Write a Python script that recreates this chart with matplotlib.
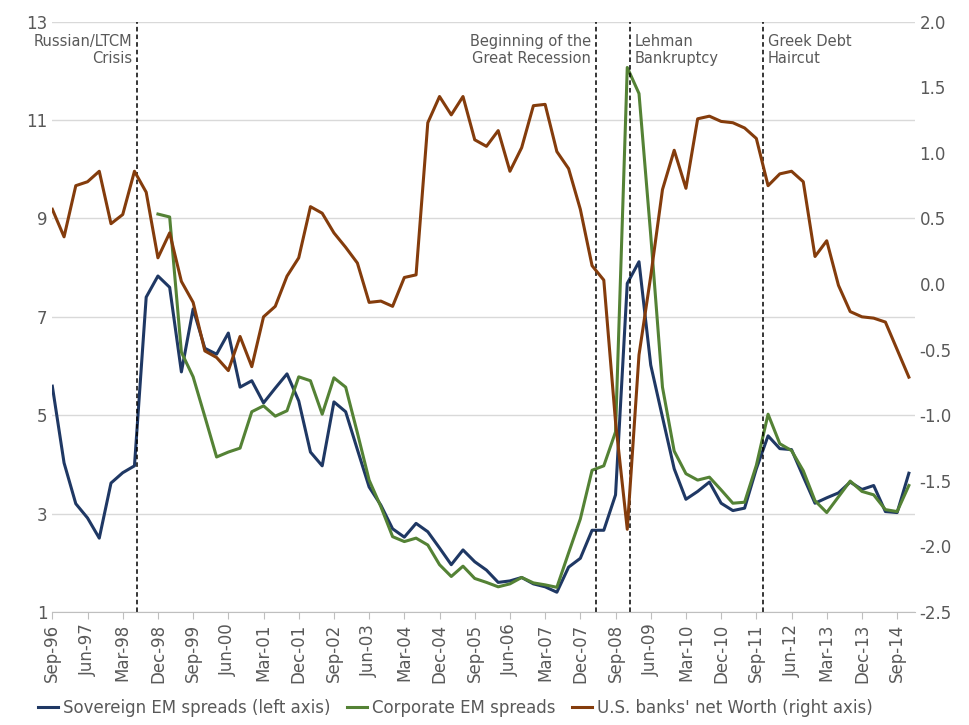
import numpy as np
import pandas as pd
import matplotlib.pyplot as plt

dates = pd.period_range('1996Q3', periods=74, freq='Q')
tick_labels = [p.strftime('%b-%y') for p in pd.period_range('1996-09', '2014-09', freq='9M')]

sovereign = [5.59, 4.03, 3.2, 2.91, 2.5, 3.62, 3.83, 3.97, 7.4, 7.83, 7.6, 5.88, 7.16, 6.36, 6.24,
             6.67, 5.57, 5.7, 5.25, 5.55, 5.84, 5.29, 4.25, 3.97, 5.27, 5.07, 4.3, 3.54, 3.17, 2.69,
             2.52, 2.8, 2.63, 2.3, 1.96, 2.26, 2.02, 1.85, 1.6, 1.63, 1.7, 1.57, 1.51, 1.4, 1.91,
             2.09, 2.66, 2.66, 3.38, 7.68, 8.12, 6.02, 4.96, 3.91, 3.29, 3.45, 3.64, 3.21, 3.06,
             3.11, 3.91, 4.58, 4.32, 4.3, 3.75, 3.21, 3.32, 3.42, 3.64, 3.49, 3.57, 3.04, 3.02, 3.82]
corporate = [np.nan] * 9 + [9.09, 9.03, 6.28, 5.78, 4.97, 4.15, 4.25, 4.33, 5.07, 5.19, 4.98, 5.09,
             5.78, 5.7, 5.02, 5.76, 5.57, 4.64, 3.68, 3.14, 2.53, 2.43, 2.5, 2.36, 1.96, 1.72, 1.93,
             1.68, 1.6, 1.51, 1.57, 1.7, 1.59, 1.55, 1.5, 2.2, 2.89, 3.88, 3.97, 4.66, 12.07, 11.54,
             8.66, 5.57, 4.27, 3.81, 3.68, 3.74, 3.48, 3.21, 3.23, 3.98, 5.02, 4.42, 4.28, 3.87,
             3.26, 3.02, 3.34, 3.66, 3.45, 3.38, 3.08, 3.04, 3.57]
networth = [0.57, 0.36, 0.75, 0.78, 0.86, 0.46, 0.53, 0.86, 0.7, 0.2, 0.39, 0.02, -0.14, -0.51,
            -0.56, -0.66, -0.4, -0.63, -0.25, -0.17, 0.06, 0.2, 0.59, 0.54, 0.39, 0.28, 0.16,
            -0.14, -0.13, -0.17, 0.05, 0.07, 1.23, 1.43, 1.29, 1.43, 1.1, 1.05, 1.17, 0.86, 1.04,
            1.36, 1.37, 1.01, 0.88, 0.57, 0.14, 0.03, -1.05, -1.87, -0.54, 0.06, 0.72, 1.02, 0.73,
            1.26, 1.28, 1.24, 1.23, 1.19, 1.11, 0.75, 0.84, 0.86, 0.78, 0.21, 0.33, -0.01, -0.21,
            -0.25, -0.26, -0.29, -0.5, -0.71]

events = [(7.2, 'Russian/LTCM\nCrisis', 'right'),
          (46.3, 'Beginning of the\nGreat Recession', 'right'),
          (49.2, 'Lehman\nBankruptcy', 'left'),
          (60.6, 'Greek Debt\nHaircut', 'left')]

x = np.arange(len(dates))
grey = '#595959'

fig = plt.figure(figsize=(9.69, 7.25), dpi=100)
ax = fig.add_axes([0.054, 0.156, 0.89, 0.814])
ax2 = ax.twinx()

l1, = ax.plot(x, sovereign, color='#1f3864', lw=2.2, label='Sovereign EM spreads (left axis)')
l2, = ax.plot(x, corporate, color='#548235', lw=2.2, label='Corporate EM spreads')
l3, = ax2.plot(x, networth, color='#843c0c', lw=2.2, label="U.S. banks' net Worth (right axis)")

for xv, txt, side in events:
    ax.axvline(xv, color='black', ls=(0, (3, 2)), lw=1.1)
    off = -0.4 if side == 'right' else 0.4
    ax.text(xv + off, 12.75, txt, ha=side, va='top', fontsize=10.5, color=grey, linespacing=1.2)

ax.set_xlim(0, 73.5)
ax.set_ylim(1, 13)
ax.set_yticks(range(1, 14, 2))
ax2.set_ylim(-2.5, 2.0)
ax2.set_yticks(np.arange(-2.5, 2.01, 0.5))
ax2.set_yticklabels([f'{v:.1f}' for v in np.arange(-2.5, 2.01, 0.5)])
ax.set_xticks(x[::3][:len(tick_labels)])
ax.set_xticklabels(tick_labels, rotation=90)
ax.grid(axis='y', color='#d9d9d9', lw=1)
ax.set_axisbelow(True)
for a in (ax, ax2):
    for s in ('top', 'left', 'right'):
        a.spines[s].set_visible(False)
    a.tick_params(axis='y', length=0, labelsize=12, colors=grey)
ax2.spines['bottom'].set_visible(False)
ax.spines['bottom'].set_color('#bfbfbf')
ax.tick_params(axis='x', labelsize=12, colors=grey, color='#bfbfbf', length=5)

fig.legend(handles=[l1, l2, l3], loc='lower center', bbox_to_anchor=(0.47, -0.01), ncol=3,
           frameon=False, fontsize=12, handlelength=1.2, columnspacing=1.0, handletextpad=0.3,
           labelcolor=grey)
fig.savefig('out.png', dpi=100)
